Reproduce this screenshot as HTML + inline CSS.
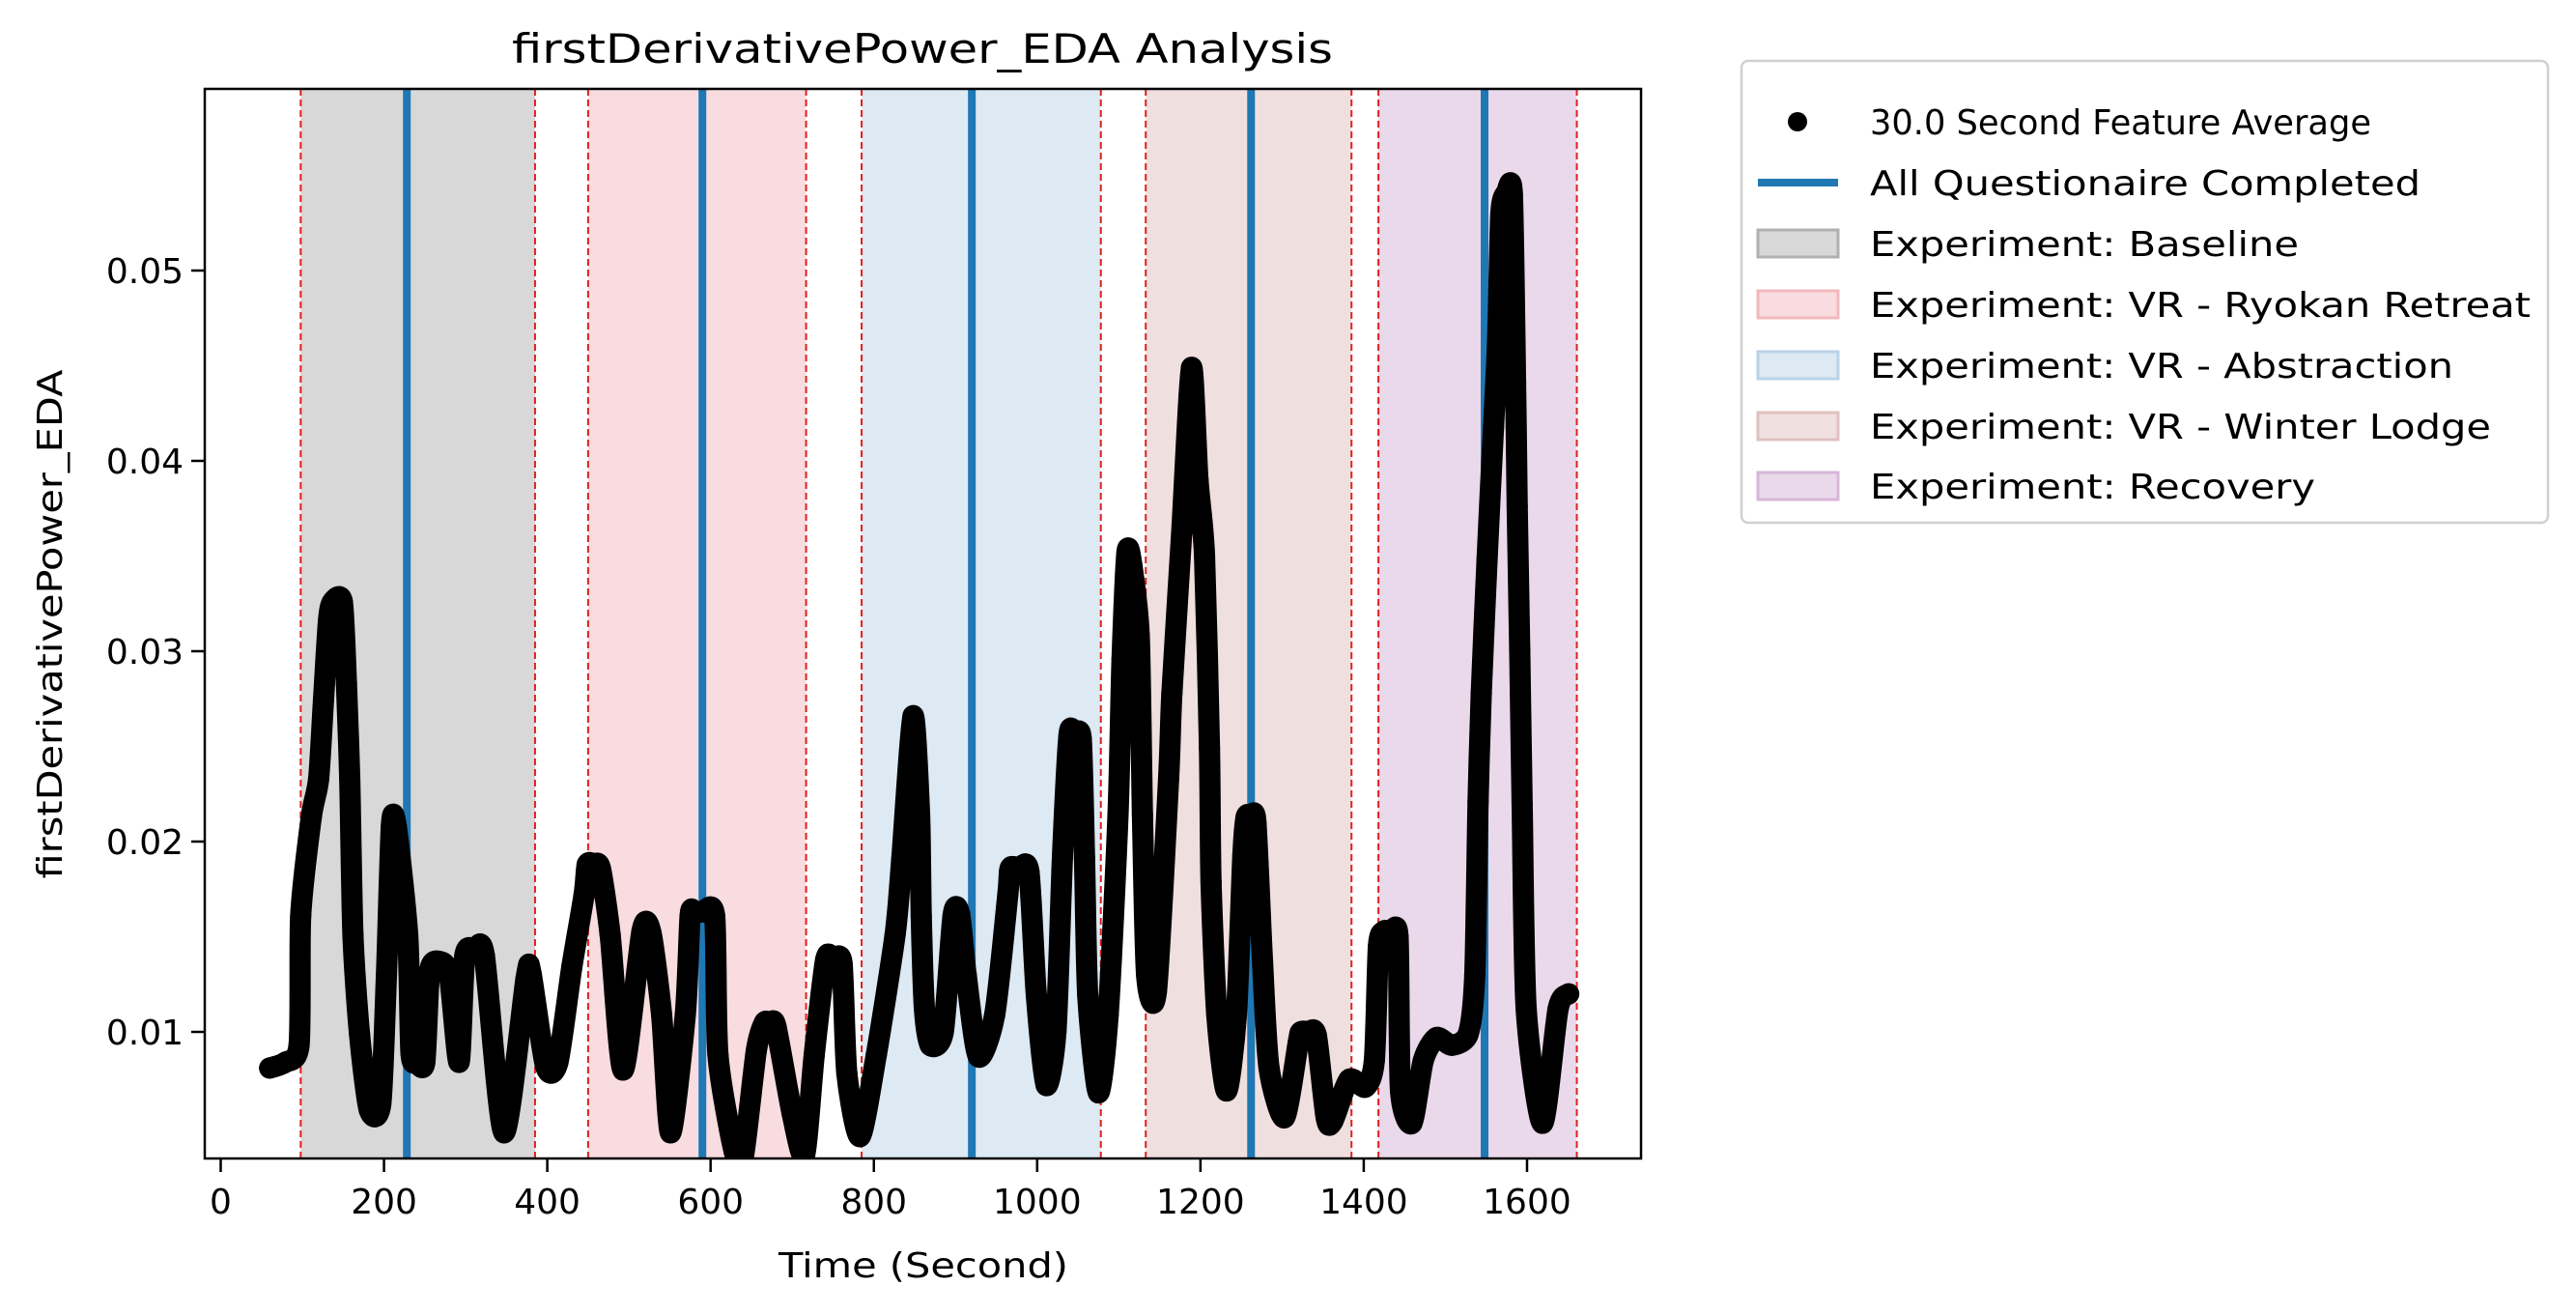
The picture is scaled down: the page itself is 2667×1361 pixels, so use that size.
<!DOCTYPE html>
<html><head><meta charset="utf-8"><style>
html,body{margin:0;padding:0;background:#fff;}
svg{display:block;font-family:"DejaVu Sans","Liberation Sans",sans-serif;}
</style></head><body>
<svg id="chart" width="2667" height="1361" viewBox="0 0 2667 1361" xmlns="http://www.w3.org/2000/svg">
<rect width="2667" height="1361" fill="#fff"/>
<g id="regions"></g>
<g id="vlines"></g>
<g id="series"></g>
<g id="axes"></g>
<text x="955" y="65" text-anchor="middle" font-size="42" textLength="850" lengthAdjust="spacingAndGlyphs">firstDerivativePower_EDA Analysis</text>
<text x="956" y="1322" text-anchor="middle" font-size="36" textLength="300" lengthAdjust="spacingAndGlyphs">Time (Second)</text>
<text transform="translate(64,646) rotate(-90)" text-anchor="middle" font-size="36" textLength="527" lengthAdjust="spacingAndGlyphs">firstDerivativePower_EDA</text>
<g id="legend"></g>
</svg>
<script>
const times  = [60,79,96,98,111,120,126,132,137,149,154,158,162,170,182,196,203,209,215,229,233,240,250,256,268,280,292,299,311,323,347,374,380,398,413,430,445,449,457,465,477,493,516,527,540,551,569,575,580,590,605,609,629,640,656,666,673,680,700,715,727,741,751,761,767,783,803,826,834,848,856,858,862,869,885,897,905,913,928,948,964,967,978,990,999,1011,1023,1031,1039,1046,1054,1058,1062,1075,1087,1099,1104,1110,1116,1125,1129,1134,1146,1161,1165,1177,1189,1197,1205,1211,1213,1220,1232,1244,1252,1256,1262,1268,1276,1284,1303,1320,1323,1332,1342,1354,1362,1382,1402,1413,1418,1425,1433,1442,1445,1459,1473,1489,1508,1528,1536,1540,1544,1551,1559,1564,1568,1575,1582,1586,1588,1591,1594,1599,1619,1638,1651];
const values = [0.0081,0.0084,0.0093,0.0161,0.0213,0.0233,0.0275,0.0316,0.0326,0.0326,0.0283,0.0233,0.0151,0.0099,0.0059,0.0062,0.0130,0.0208,0.0208,0.0151,0.0089,0.0084,0.0084,0.0132,0.0137,0.0130,0.0084,0.0140,0.0143,0.0140,0.0047,0.0128,0.0131,0.0082,0.0084,0.0134,0.0172,0.0188,0.0188,0.0186,0.0151,0.0080,0.0153,0.0152,0.0109,0.0047,0.0109,0.0161,0.0163,0.0163,0.0161,0.0088,0.0037,0.0034,0.0090,0.0105,0.0104,0.0103,0.0057,0.0035,0.0088,0.0138,0.0138,0.0136,0.0078,0.0045,0.0088,0.0151,0.0190,0.0266,0.0214,0.0161,0.0112,0.0093,0.0100,0.0161,0.0162,0.0130,0.0087,0.0109,0.0172,0.0186,0.0186,0.0184,0.0119,0.0072,0.0100,0.0192,0.0256,0.0256,0.0254,0.0192,0.0119,0.0068,0.0109,0.0214,0.0296,0.0352,0.0345,0.0308,0.0214,0.0130,0.0121,0.0233,0.0278,0.0362,0.0449,0.0390,0.0350,0.0249,0.0179,0.0109,0.0069,0.0109,0.0193,0.0213,0.0213,0.0210,0.0137,0.0081,0.0055,0.0095,0.0100,0.0100,0.0098,0.0055,0.0053,0.0075,0.0071,0.0085,0.0145,0.0153,0.0152,0.0150,0.0069,0.0052,0.0085,0.0097,0.0093,0.0099,0.0130,0.0221,0.0278,0.0348,0.0418,0.0463,0.0530,0.0541,0.0540,0.0441,0.0376,0.0301,0.0220,0.0112,0.0052,0.0112,0.0120];
const regionNames  = ["Baseline","VR - Ryokan Retreat","VR - Abstraction","VR - Winter Lodge","Recovery"];
const regionStarts = [98,450,785,1133,1418];
const regionEnds   = [385,717,1078,1385,1661];
const questionnaireTimes = [228,590,920,1262,1548];
const xTicks = [0,200,400,600,800,1000,1200,1400,1600];
const yTicks = [0.01,0.02,0.03,0.04,0.05];

const regionFill = ["#d8d8d8","#f8dcdf","#dde9f3","#f0dfdf","#ead9ea"];
const regionEdge = ["#b0b0b0","#f0b8bd","#b9d2e8","#e0c0c0","#d8b6d8"];
const L=212,R=1699,T=92,B=1199;
function xs(t){return 228.5+(t)*0.8453;}
function ys(v){return 1068-(v-0.01)*19700;}
const NS="http://www.w3.org/2000/svg";
function mk(tag,attrs,parent){const e=document.createElementNS(NS,tag);for(const k in attrs)e.setAttribute(k,attrs[k]);parent.appendChild(e);return e;}

const gR=document.getElementById('regions');
for(let i=0;i<regionNames.length;i++){
  const x0=xs(regionStarts[i]),x1=xs(regionEnds[i]);
  const r=mk('rect',{x:x0,y:T,width:x1-x0,height:B-T,fill:regionFill[i]},gR);
  
  
  [x0,x1].forEach(x=>{
    const l=mk('line',{x1:x,x2:x,y1:T,y2:B,stroke:'#e02020','stroke-width':2,'stroke-dasharray':'7,4'},gR);
    
    
  });
}
const gV=document.getElementById('vlines');
questionnaireTimes.forEach(t=>{
  const l=mk('line',{x1:xs(t),x2:xs(t),y1:T,y2:B,stroke:'#1f77b4','stroke-width':8},gV);
  
  
});
const gS=document.getElementById('series');
const clip=mk('clipPath',{id:'plotclip'},document.getElementById('chart'));
mk('rect',{x:L,y:T,width:R-L,height:B-T},clip);
gS.setAttribute('clip-path','url(#plotclip)');
const P=times.map((t,i)=>[xs(t),ys(values[i])]);
let d='M'+P[0][0].toFixed(1)+','+P[0][1].toFixed(1);
for(let i=0;i<P.length-1;i++){
  const p0=P[Math.max(0,i-1)],p1=P[i],p2=P[i+1],p3=P[Math.min(P.length-1,i+2)];
  const k=1/8;
  const c1=[p1[0]+(p2[0]-p0[0])*k,p1[1]+(p2[1]-p0[1])*k];
  const c2=[p2[0]-(p3[0]-p1[0])*k,p2[1]-(p3[1]-p1[1])*k];
  d+='C'+c1[0].toFixed(1)+','+c1[1].toFixed(1)+' '+c2[0].toFixed(1)+','+c2[1].toFixed(1)+' '+p2[0].toFixed(1)+','+p2[1].toFixed(1);
}
const pl=mk('path',{d:d,fill:'none',stroke:'#000','stroke-width':22,'stroke-linejoin':'round','stroke-linecap':'round'},gS);


for(let i=0;i<times.length;i++){
  const c=mk('circle',{cx:xs(times[i]),cy:ys(values[i]),r:11,fill:'#000'},gS);
  
  
}
const gA=document.getElementById('axes');
const fr=mk('rect',{x:L,y:T,width:R-L,height:B-T,fill:'none',stroke:'#000','stroke-width':2.5},gA);


xTicks.forEach(t=>{
  const x=xs(t);
  mk('line',{x1:x,x2:x,y1:B,y2:B+14,stroke:'#000','stroke-width':2.5},gA);
  const tx=mk('text',{x:x,y:B+57,'text-anchor':'middle','font-size':36},gA);
  tx.textContent=t;
  
  
});
yTicks.forEach(v=>{
  const y=ys(v);
  mk('line',{x1:L-14,x2:L,y1:y,y2:y,stroke:'#000','stroke-width':2.5},gA);
  const tx=mk('text',{x:L-22,y:y+13,'text-anchor':'end','font-size':36},gA);
  tx.textContent=v.toFixed(2);
  
  
});
const gL=document.getElementById('legend');
mk('rect',{x:1803,y:63,width:835,height:478,rx:7,fill:'#fff',stroke:'#d0d0d0','stroke-width':2.5},gL);
const legTexts=["30.0 Second Feature Average","All Questionaire Completed"].concat(regionNames.map(n=>"Experiment: "+n));
const legW=[519,570,444,684,604,643,461];
const rowsY=[126,189,252,315,378,441,503];
legTexts.forEach((s,i)=>{
  const y=rowsY[i];
  if(i===0){const c=mk('circle',{cx:1861,cy:y,r:10,fill:'#000'},gL);}
  else if(i===1){const l=mk('line',{x1:1820,x2:1903,y1:y,y2:y,stroke:'#1f77b4','stroke-width':8},gL);}
  else{const p=mk('rect',{x:1820,y:y-14,width:83,height:28,fill:regionFill[i-2],stroke:regionEdge[i-2],'stroke-width':3},gL);}
  const t=mk('text',{x:1936,y:y+13,'font-size':36,textLength:legW[i],lengthAdjust:'spacingAndGlyphs'},gL);
  t.textContent=s;
  
  
});
</script>
</body></html>
